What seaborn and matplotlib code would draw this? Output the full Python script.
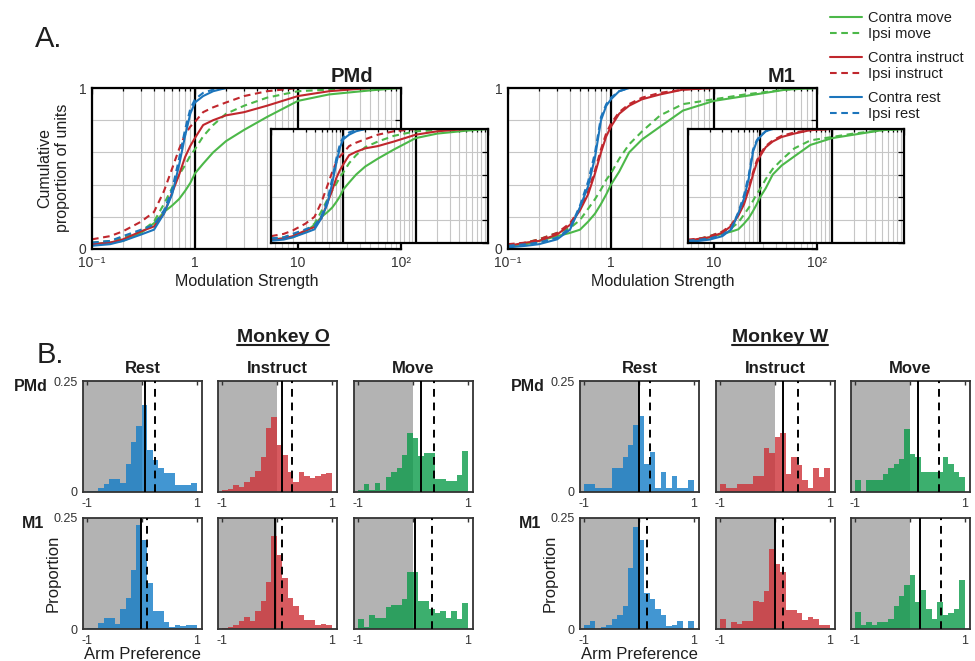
import numpy as np
import matplotlib.pyplot as plt
import seaborn as sns
from matplotlib.lines import Line2D
from matplotlib.ticker import NullFormatter

# ---------------- panel A: cumulative modulation strength ----------------
XS = [0.1, 0.15, 0.2, 0.3, 0.4, 0.5, 0.6, 0.7, 0.8, 0.9, 1.0, 1.2, 1.5, 2, 3, 5, 10, 20, 50, 100]

pmd_contra_move = [0.03, 0.04, 0.05, 0.10, 0.16, 0.23, 0.27, 0.31, 0.36, 0.41, 0.47, 0.53, 0.60, 0.67, 0.74, 0.82, 0.92, 0.96, 0.985, 1.0]
pmd_ipsi_move = [0.04, 0.05, 0.07, 0.11, 0.17, 0.28, 0.38, 0.46, 0.52, 0.58, 0.62, 0.70, 0.77, 0.84, 0.89, 0.94, 0.98, 0.99, 1.0]
pmd_contra_instruct = [0.03, 0.04, 0.06, 0.11, 0.14, 0.22, 0.35, 0.46, 0.57, 0.64, 0.69, 0.77, 0.80, 0.83, 0.85, 0.89, 0.95, 0.98, 1.0]
pmd_ipsi_instruct = [0.06, 0.08, 0.11, 0.17, 0.23, 0.36, 0.50, 0.62, 0.71, 0.76, 0.79, 0.85, 0.88, 0.91, 0.95, 0.98, 1.0]
pmd_contra_rest = [0.02, 0.03, 0.05, 0.09, 0.12, 0.22, 0.34, 0.52, 0.70, 0.84, 0.91, 0.95, 0.98, 1.0]
pmd_ipsi_rest = [0.04, 0.05, 0.08, 0.12, 0.15, 0.24, 0.37, 0.56, 0.74, 0.87, 0.93, 0.97, 0.99, 1.0]

m1_contra_move = [0.02, 0.03, 0.05, 0.08, 0.10, 0.12, 0.17, 0.22, 0.28, 0.34, 0.40, 0.48, 0.60, 0.68, 0.76, 0.86, 0.92, 0.95, 0.99, 1.0]
m1_ipsi_move = [0.02, 0.04, 0.06, 0.10, 0.13, 0.18, 0.25, 0.31, 0.37, 0.43, 0.47, 0.56, 0.65, 0.73, 0.83, 0.90, 0.93, 0.96, 0.99, 1.0]
m1_contra_instruct = [0.02, 0.04, 0.05, 0.09, 0.15, 0.24, 0.34, 0.47, 0.60, 0.70, 0.76, 0.84, 0.89, 0.93, 0.96, 0.99, 1.0]
m1_ipsi_instruct = [0.03, 0.04, 0.06, 0.10, 0.16, 0.25, 0.36, 0.49, 0.62, 0.72, 0.78, 0.85, 0.90, 0.94, 0.97, 0.99, 1.0]
m1_contra_rest = [0.01, 0.02, 0.03, 0.06, 0.12, 0.26, 0.39, 0.57, 0.80, 0.89, 0.93, 0.98, 1.0]
m1_ipsi_rest = [0.02, 0.03, 0.04, 0.07, 0.13, 0.27, 0.42, 0.60, 0.82, 0.90, 0.94, 0.98, 1.0]

CURVE_LABELS = ['Contra move', 'Ipsi move', 'Contra instruct', 'Ipsi instruct', 'Contra rest', 'Ipsi rest']

# ---------------- panel B: arm preference histograms ----------------
# proportion of units per 0.1-wide bin from -1 to 1
o_pmd_rest = [0.002, 0.002, 0.010, 0.019, 0.029, 0.029, 0.021, 0.062, 0.113, 0.149, 0.196, 0.094, 0.073, 0.055, 0.043, 0.042, 0.016, 0.016, 0.016, 0.020]
o_pmd_instruct = [0.005, 0.007, 0.015, 0.011, 0.022, 0.034, 0.047, 0.079, 0.144, 0.168, 0.106, 0.084, 0.046, 0.022, 0.046, 0.035, 0.032, 0.036, 0.041, 0.043]
o_pmd_move = [0.004, 0.017, 0.004, 0.021, 0.004, 0.034, 0.045, 0.054, 0.083, 0.132, 0.122, 0.080, 0.088, 0.088, 0.030, 0.030, 0.025, 0.025, 0.039, 0.092]
o_m1_rest = [0.002, 0.002, 0.014, 0.025, 0.025, 0.012, 0.044, 0.070, 0.133, 0.235, 0.200, 0.104, 0.040, 0.040, 0.015, 0.004, 0.008, 0.006, 0.008, 0.008]
o_m1_instruct = [0.002, 0.004, 0.008, 0.017, 0.026, 0.019, 0.040, 0.062, 0.105, 0.210, 0.167, 0.115, 0.070, 0.051, 0.032, 0.021, 0.021, 0.010, 0.011, 0.008]
o_m1_move = [0.022, 0.005, 0.031, 0.025, 0.024, 0.050, 0.055, 0.055, 0.067, 0.128, 0.128, 0.062, 0.062, 0.046, 0.035, 0.040, 0.025, 0.040, 0.023, 0.059]

w_pmd_rest = [0.017, 0.017, 0.008, 0.008, 0.008, 0.053, 0.053, 0.079, 0.105, 0.152, 0.172, 0.064, 0.089, 0.008, 0.044, 0.008, 0.035, 0.008, 0.008, 0.026]
w_pmd_instruct = [0.017, 0.008, 0.008, 0.017, 0.017, 0.017, 0.036, 0.036, 0.098, 0.087, 0.124, 0.134, 0.041, 0.079, 0.060, 0.026, 0.008, 0.053, 0.034, 0.053]
w_pmd_move = [0.026, 0.0, 0.026, 0.026, 0.026, 0.041, 0.053, 0.064, 0.075, 0.143, 0.085, 0.079, 0.044, 0.044, 0.044, 0.044, 0.079, 0.062, 0.044, 0.034]
w_m1_rest = [0.010, 0.017, 0.0, 0.005, 0.010, 0.022, 0.031, 0.052, 0.137, 0.230, 0.200, 0.080, 0.068, 0.046, 0.031, 0.006, 0.008, 0.017, 0.0, 0.017]
w_m1_instruct = [0.022, 0.002, 0.016, 0.012, 0.017, 0.017, 0.062, 0.061, 0.086, 0.180, 0.147, 0.128, 0.042, 0.042, 0.035, 0.020, 0.027, 0.023, 0.010, 0.010]
w_m1_move = [0.038, 0.010, 0.016, 0.010, 0.016, 0.016, 0.023, 0.052, 0.075, 0.100, 0.122, 0.061, 0.087, 0.046, 0.023, 0.061, 0.032, 0.035, 0.046, 0.110]

# (solid line, dashed line) positions for each histogram
o_pmd_lines = [(0.05, 0.23), (0.09, 0.28), (0.14, 0.39)]
o_m1_lines = [(-0.02, 0.10), (-0.03, 0.10), (0.04, 0.34)]
w_pmd_lines = [(0.0, 0.20), (0.155, 0.42), (0.14, 0.53)]
w_m1_lines = [(0.0, 0.14), (0.0, 0.14), (0.19, 0.57)]

EPOCHS = ['Rest', 'Instruct', 'Move']
BIN_EDGES = [round(-1 + 0.1 * i, 2) for i in range(21)]

# ---------------- style ----------------
sns.set_style('white')
plt.rcParams['font.family'] = ['Liberation Sans', 'DejaVu Sans']
TXT = '#1e1e1e'
plt.rcParams['text.color'] = TXT
plt.rcParams['xtick.color'] = TXT
plt.rcParams['ytick.color'] = TXT
plt.rcParams['axes.labelcolor'] = TXT

GREEN, RED, BLUE = '#4cb849', '#c0272d', '#1c75bc'
HIST_COLORS = {'Rest': '#137cc7', 'Instruct': '#cd3137', 'Move': '#0b9b4a'}
DASH = (0, (3.2, 2.2))

W, H = 975, 661
fig = plt.figure(figsize=(W / 100, H / 100), dpi=100)


def px_axes(left, top, right, bottom):
    return fig.add_axes([left / W, 1 - bottom / H, (right - left) / W, (bottom - top) / H])


def draw_cdfs(ax, curves):
    handles = []
    for ys, color, ls, label in curves:
        sns.lineplot(x=XS[:len(ys)], y=ys, ax=ax, color=color, lw=1.5,
                     linestyle=ls, legend=False, label=label, sort=False)
        handles.append(ax.lines[-1])
    return handles


def style_cdf(ax, with_labels):
    ax.set_xscale('log')
    ax.set_xlim(0.1, 100)
    ax.set_ylim(0, 1)
    ax.set_xticks([0.1, 1, 10, 100])
    ax.set_yticks([0, 0.2, 0.4, 0.6, 0.8, 1.0])
    ax.xaxis.set_minor_formatter(NullFormatter())
    ax.set_axisbelow(True)
    ax.grid(True, which='both', axis='x', color='#c6c6c6', lw=0.8)
    ax.grid(True, which='major', axis='y', color='#c6c6c6', lw=0.8)
    for v in (1, 10):
        ax.axvline(v, color='black', lw=1.6, zorder=1.5)
    ax.tick_params(which='both', direction='in', top=True, right=True, width=0.9, colors='black')
    ax.tick_params(which='major', length=4.5)
    ax.tick_params(which='minor', length=2.5)
    for s in ax.spines.values():
        s.set_linewidth(1.6)
        s.set_color('black')
    if with_labels:
        ax.set_xticklabels(['10⁻¹', '1', '10', '10²'], fontsize=10, color='#333333')
        ax.set_yticklabels(['0', '', '', '', '', '1'], fontsize=10, color='#333333')
        ax.tick_params(axis='x', pad=5)
        ax.tick_params(axis='y', pad=4)
        ax.set_xlabel('Modulation Strength', fontsize=11.5, labelpad=3)
    else:
        ax.set_xticklabels([])
        ax.set_yticklabels([])
    ax.set_ylabel('')


cdf_sets = {
    'PMd': [(pmd_contra_move, GREEN, '-', CURVE_LABELS[0]),
            (pmd_ipsi_move, GREEN, DASH, CURVE_LABELS[1]),
            (pmd_contra_instruct, RED, '-', CURVE_LABELS[2]),
            (pmd_ipsi_instruct, RED, DASH, CURVE_LABELS[3]),
            (pmd_contra_rest, BLUE, '-', CURVE_LABELS[4]),
            (pmd_ipsi_rest, BLUE, DASH, CURVE_LABELS[5])],
    'M1': [(m1_contra_move, GREEN, '-', CURVE_LABELS[0]),
           (m1_ipsi_move, GREEN, DASH, CURVE_LABELS[1]),
           (m1_contra_instruct, RED, '-', CURVE_LABELS[2]),
           (m1_ipsi_instruct, RED, DASH, CURVE_LABELS[3]),
           (m1_contra_rest, BLUE, '-', CURVE_LABELS[4]),
           (m1_ipsi_rest, BLUE, DASH, CURVE_LABELS[5])],
}

# main axes + inset for each area
ax_pmd = px_axes(92, 88, 401, 249)
legend_handles = draw_cdfs(ax_pmd, cdf_sets['PMd'])
style_cdf(ax_pmd, True)
ax_pmd_in = px_axes(271, 129, 488, 243)
draw_cdfs(ax_pmd_in, cdf_sets['PMd'])
style_cdf(ax_pmd_in, False)

ax_m1 = px_axes(508, 88, 817, 249)
draw_cdfs(ax_m1, cdf_sets['M1'])
style_cdf(ax_m1, True)
ax_m1_in = px_axes(688, 129, 904, 243)
draw_cdfs(ax_m1_in, cdf_sets['M1'])
style_cdf(ax_m1_in, False)

fig.text(352 / W, 1 - 76 / H, 'PMd', fontsize=14.5, fontweight='bold', ha='center', va='center')
fig.text(782 / W, 1 - 76 / H, 'M1', fontsize=14.5, fontweight='bold', ha='center', va='center')
fig.text(54 / W, 1 - 168 / H, 'Cumulative\nproportion of units', rotation=90, fontsize=11.5,
         ha='center', va='center', multialignment='center', linespacing=1.25)
fig.text(49 / W, 1 - 39 / H, 'A.', fontsize=21, ha='center', va='center')
fig.text(50 / W, 1 - 355 / H, 'B.', fontsize=21, ha='center', va='center')

# legend in three pairs
for i, top in enumerate([11, 51, 91]):
    leg = fig.legend(handles=legend_handles[2 * i:2 * i + 2], labels=CURVE_LABELS[2 * i:2 * i + 2],
                     loc='upper left', bbox_to_anchor=(830 / W, 1 - top / H), frameon=False,
                     fontsize=10.5, handlelength=2.2, handletextpad=0.4, labelspacing=0.15,
                     borderpad=0, borderaxespad=0)
    for t in leg.get_texts():
        t.set_color(TXT)

# ---------------- panel B ----------------
hist_sets = [
    ('Monkey O', 283, [83, 218, 354], [(o_pmd_rest, o_pmd_instruct, o_pmd_move), (o_m1_rest, o_m1_instruct, o_m1_move)],
     [o_pmd_lines, o_m1_lines], [31, 33]),
    ('Monkey W', 780, [580, 716, 851], [(w_pmd_rest, w_pmd_instruct, w_pmd_move), (w_m1_rest, w_m1_instruct, w_m1_move)],
     [w_pmd_lines, w_m1_lines], [528, 530]),
]
row_tops = [381, 518]
row_names = ['PMd', 'M1']
centers = [round(e + 0.05, 3) for e in BIN_EDGES[:-1]]

monkey_texts = []
for name, name_x, lefts, rows, lines, label_x in hist_sets:
    t = fig.text(name_x / W, 1 - 342 / H, name, fontsize=14, fontweight='bold', ha='center', va='baseline')
    monkey_texts.append(t)
    for r, (row_vals, row_lines) in enumerate(zip(rows, lines)):
        top = row_tops[r]
        fig.text(label_x[r] / W, 1 - (top + 6) / H, row_names[r], fontsize=11.5,
                 fontweight='bold', ha='center', va='center')
        for c, (vals, (solid, dashed)) in enumerate(zip(row_vals, row_lines)):
            ax = px_axes(lefts[c], top, lefts[c] + 119, top + 111)
            ax.axvspan(-1.2, 0, color='#b3b3b3', lw=0, zorder=0)
            sns.histplot(x=centers, weights=vals, bins=BIN_EDGES, stat='count', ax=ax,
                         color=HIST_COLORS[EPOCHS[c]], alpha=0.8, edgecolor='none', linewidth=0,
                         zorder=1)
            ax.axvline(solid, color='black', lw=1.4, zorder=3)
            ax.axvline(dashed, color='black', lw=1.4, ls=(0, (4, 3)), zorder=3)
            ax.set_xlim(-1.08, 1.1)
            ax.set_ylim(0, 0.25)
            ax.set_xticks([-1, 0, 1])
            ax.set_xticklabels(['-1', '', '1'], fontsize=9)
            ax.tick_params(axis='x', direction='out', length=3.5, width=1, pad=1, colors='#333333')
            sec = ax.secondary_xaxis('top')
            sec.set_xticks([-1, 0, 1])
            sec.tick_params(direction='in', length=3, width=1, labeltop=False, colors='#333333')
            sec.spines['top'].set_visible(False)
            ax.set_yticks([0, 0.25])
            if c == 0:
                ax.set_yticklabels(['0', '0.25'], fontsize=9)
                ax.tick_params(axis='y', direction='out', length=3, width=1, pad=1, colors='#333333')
            else:
                ax.set_yticklabels([])
                ax.tick_params(axis='y', length=0)
            for s in ax.spines.values():
                s.set_linewidth(1.3)
                s.set_color('#333333')
            ax.set_xlabel('')
            ax.set_ylabel('')
            if r == 0:
                ax.set_title(EPOCHS[c], fontsize=12, fontweight='bold', pad=5.5)
            if r == 1 and c == 0:
                ax.set_ylabel('Proportion', fontsize=12)
                ax.yaxis.set_label_coords(-0.19, 0.5)
                ax.set_xlabel('Arm Preference', fontsize=12)
                ax.xaxis.set_label_coords(0.5, -0.165)

# underline the monkey names
fig.canvas.draw()
renderer = fig.canvas.get_renderer()
for t in monkey_texts:
    bb = t.get_window_extent(renderer)
    y = (H - 344.5) / H
    fig.add_artist(Line2D([bb.x0 / W, bb.x1 / W], [y, y], transform=fig.transFigure,
                          color=TXT, lw=1.5))

fig.savefig('out.png', dpi=100)
